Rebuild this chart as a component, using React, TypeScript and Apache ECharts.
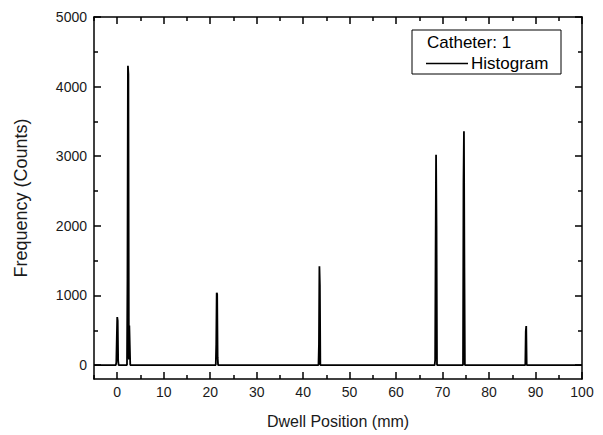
import React, { useEffect, useRef } from "react";
import * as echarts from "echarts";

const dwellPositions = [
  -5,
  -0.3, -0.2, -0.1, 0.0, 0.1, 0.2, 0.3,
  2.1, 2.2, 2.3, 2.4, 2.5, 2.6, 2.7, 2.8,
  21.2, 21.3, 21.4, 21.5, 21.6, 21.7,
  43.3, 43.4, 43.5, 43.6, 43.7,
  68.3, 68.4, 68.5, 68.6, 68.7, 68.8,
  74.4, 74.5, 74.6, 74.7, 74.8,
  87.8, 87.9, 88.0, 88.1,
  100,
];
const counts = [
  0,
  0, 40, 370, 690, 640, 60, 0,
  0, 1250, 4300, 4180, 80, 570, 570, 0,
  0, 300, 1040, 1020, 110, 0,
  0, 300, 1420, 1150, 0,
  0, 70, 1640, 3020, 2000, 0,
  0, 2620, 3360, 1400, 0,
  0, 480, 560, 0,
  0,
];

const xMajorTicks = [0, 10, 20, 30, 40, 50, 60, 70, 80, 90, 100];
const xMinorTicks = [-5, 5, 15, 25, 35, 45, 55, 65, 75, 85, 95];
const yMajorTicks = [0, 1000, 2000, 3000, 4000, 5000];
const yMinorTicks = [500, 1500, 2500, 3500, 4500];

const legendTitle = "Catheter: 1";
const legendLabel = "Histogram";
const xName = "Dwell Position (mm)";
const yName = "Frequency (Counts)";

const FONT = "Liberation Sans, Arial, sans-serif";
const TXT = "#1a1a1a";

export default function App() {
  const ref = useRef<HTMLDivElement>(null);
  useEffect(() => {
    if (!ref.current) return;
    const chart = echarts.init(ref.current, null, { renderer: "svg" });
    const X_MIN = -5, X_MAX = 100, Y_MIN = -200, Y_MAX = 5000;
    const lineStyle = { color: "#000", width: 1.5 };
    const mkX = (position: string, ticks: number[], len: number, showLine: boolean, labels: boolean, withName: boolean) => ({
      type: "value",
      min: X_MIN,
      max: X_MAX,
      position,
      axisLine: { show: showLine, onZero: false, lineStyle },
      axisTick: { show: true, inside: true, length: len, customValues: ticks, lineStyle },
      axisLabel: labels
        ? { show: true, customValues: xMajorTicks, fontSize: 14, fontFamily: FONT, color: TXT, margin: 6, formatter: (v: number) => String(v) }
        : { show: false },
      splitLine: { show: false },
      ...(withName
        ? {
            name: xName,
            nameLocation: "middle",
            nameGap: 34,
            nameTextStyle: { fontSize: 16, fontFamily: FONT, color: TXT },
          }
        : {}),
    });
    const mkY = (position: string, ticks: number[], len: number, showLine: boolean, labels: boolean, withName: boolean) => ({
      type: "value",
      min: Y_MIN,
      max: Y_MAX,
      position,
      axisLine: { show: showLine, onZero: false, lineStyle },
      axisTick: { show: true, inside: true, length: len, customValues: ticks, lineStyle },
      axisLabel: labels
        ? { show: true, customValues: yMajorTicks, fontSize: 14, fontFamily: FONT, color: TXT, margin: 7, formatter: (v: number) => String(v) }
        : { show: false },
      splitLine: { show: false },
      ...(withName
        ? {
            name: yName,
            nameLocation: "middle",
            nameGap: 64,
            nameTextStyle: { fontSize: 18, fontFamily: FONT, color: TXT },
          }
        : {}),
    });
    const data = dwellPositions.map((x, i) => [x, counts[i]]);
    chart.setOption({
      animation: false,
      backgroundColor: "#fff",
      grid: { left: 94, right: 21, top: 17, bottom: 56, containLabel: false },
      xAxis: [
        mkX("bottom", xMajorTicks, 7, true, true, true),
        mkX("bottom", xMinorTicks, 4, false, false, false),
        mkX("top", xMajorTicks, 7, true, false, false),
        mkX("top", xMinorTicks, 4, false, false, false),
      ],
      yAxis: [
        mkY("left", yMajorTicks, 7, true, true, true),
        mkY("left", yMinorTicks, 4, false, false, false),
        mkY("right", yMajorTicks, 7, true, false, false),
        mkY("right", yMinorTicks, 4, false, false, false),
      ],
      series: [
        {
          type: "line",
          name: legendLabel,
          xAxisIndex: 0,
          yAxisIndex: 0,
          data,
          showSymbol: false,
          symbol: "none",
          lineStyle: { color: "#000", width: 1.8 },
          clip: true,
        },
      ],
      graphic: [
        {
          type: "rect",
          shape: { x: 412, y: 30, width: 149, height: 44 },
          style: { fill: "#fff", stroke: "#000", lineWidth: 1 },
          z: 100,
        },
        {
          type: "text",
          x: 427,
          y: 42,
          style: { text: legendTitle, fontSize: 17, fontFamily: FONT, fill: "#000", verticalAlign: "middle" },
          z: 101,
        },
        {
          type: "line",
          shape: { x1: 426, y1: 63.5, x2: 468, y2: 63.5 },
          style: { stroke: "#000", lineWidth: 1.5 },
          z: 101,
        },
        {
          type: "text",
          x: 471,
          y: 63,
          style: { text: legendLabel, fontSize: 17, fontFamily: FONT, fill: "#000", verticalAlign: "middle" },
          z: 101,
        },
      ],
    });
    return () => chart.dispose();
  }, []);
  return <div ref={ref} style={{ width: 603, height: 435, position: "absolute", left: 0, top: 0 }} />;
}
